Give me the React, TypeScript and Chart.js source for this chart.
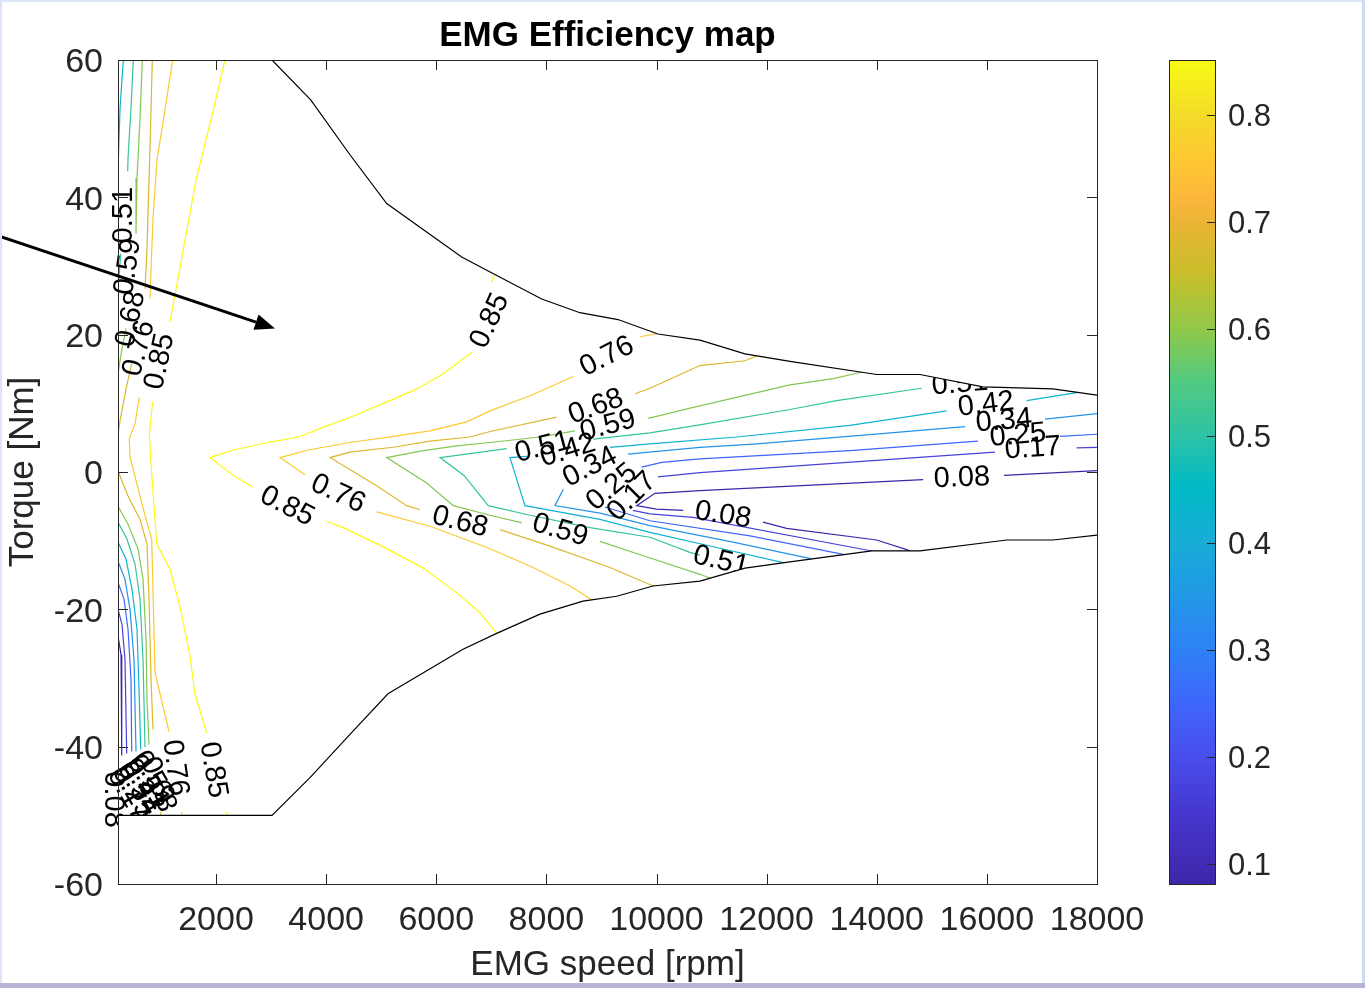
import React, { useEffect, useRef } from 'react';
import { Chart, registerables } from 'chart.js';
Chart.register(...registerables);

const FONT = '"Liberation Sans", Arial, Helvetica, sans-serif';
Chart.defaults.font.family = FONT;

// ---------- axes ----------
const xRange = [220, 18000];
const yRange = [-60, 60];
const xTicks = [2000, 4000, 6000, 8000, 10000, 12000, 14000, 16000, 18000];
const yTicks = [-60, -40, -20, 0, 20, 40, 60];
const cRange = [0.081, 0.851];
const cbTicks = [0.1, 0.2, 0.3, 0.4, 0.5, 0.6, 0.7, 0.8];
const levels = [0.08, 0.17, 0.25, 0.34, 0.42, 0.51, 0.59, 0.68, 0.76, 0.85];

// ---------- operating envelope (speed rpm, torque Nm) ----------
const topEnvelope = [[220, 60], [3017, 60], [3720, 54.2], [4433, 46.2], [5100, 39.1], [6462, 31.3], [7030, 28.9], [7915, 25.2], [8610, 23.2], [9300, 22.2], [10027, 20.1], [10789, 19.2], [11607, 17.2], [12424, 16.1], [13998, 14.2], [14785, 14.2], [15929, 12.4], [17200, 12.1], [18000, 11.2]];
const bottomEnvelope = [[220, -50], [3017, -50], [3707, -44.5], [4433, -38.2], [5123, -32.3], [5796, -29.1], [6486, -25.8], [7097, -23.5], [7884, -20.7], [8665, -18.8], [9277, -18.1], [9936, -16.6], [10789, -15.9], [11607, -14.0], [12424, -13.1], [13908, -11.5], [14785, -11.5], [16359, -9.9], [17200, -9.9], [18000, -9.2]];

// ---------- contour segments per level ----------
const c08 = [
  [[220, -23.9], [275, -26.6], [288, -33.1], [288, -41.3]],
  [[14844, -1.1], [10789, -2.7], [9972, -3.1], [9640, -4.9], [10003, -5.4], [10486, -5.6]],
  [[16310, -0.5], [18000, 0.2]],
  [[11934, -7.3], [12364, -8.2], [13998, -9.9], [14543, -11.3], [14700, -11.8]],
];
const c17 = [
  [[220, -20.0], [293, -22.2], [347, -27.3], [378, -41.0]],
  [[10027, -0.7], [10789, -0.1], [16147, 2.9]],
  [[17630, 3.5], [18000, 3.6]],
  [[9570, -5.6], [9881, -6.1], [10662, -6.6], [13913, -11.5], [14100, -11.9]],
];
const c25 = [
  [[220, -16.1], [329, -18.5], [402, -22.9], [456, -30.2], [469, -40.7]],
  [[9731, 0.7], [10094, 1.4], [10789, 1.9], [13513, 3.1], [15838, 4.5]],
  [[17327, 5.2], [18000, 5.5]],
  [[9064, -5.1], [9881, -7.1], [11697, -9.3], [13392, -12.0], [13650, -12.4]],
];
const c34 = [
  [[220, -13.0], [347, -15.6], [438, -20.0], [511, -27.3], [547, -40.7]],
  [[9482, 2.6], [10789, 3.6], [11819, 4.1], [13817, 5.4], [15602, 6.6]],
  [[17055, 7.7], [18000, 8.5]],
  [[8307, -2.5], [8156, -4.9], [8973, -6.0], [9881, -7.8], [11389, -10.2], [12842, -12.7], [13100, -13.2]],
];
const c42 = [
  [[317, 60], [257, 53.0], [226, 45.4], [220, 44.0]],
  [[220, -10.2], [366, -12.7], [475, -17.1], [565, -22.9], [602, -31.7], [633, -40.4]],
  [[7702, 2.3], [7339, 2.1], [7611, -4.9], [8973, -6.9], [9881, -8.8], [11093, -11.0], [12302, -13.2], [12550, -13.7]],
  [[9155, 3.6], [9881, 4.1], [11456, 5.1], [13513, 6.8], [15269, 8.9]],
  [[16722, 10.4], [17660, 11.6], [17800, 11.8]],
];
const c51 = [
  [[498, 60], [456, 53.0], [402, 45.7], [396, 43.8]],
  [[270, 31.8], [220, 26.7]],
  [[220, -7.3], [384, -9.8], [529, -13.4], [620, -18.5], [674, -27.3], [711, -40.1]],
  [[7279, 3.4], [6068, 2.1], [6504, -0.5], [6945, -4.9], [7702, -6.3], [8792, -8.1], [9881, -9.5], [10608, -11.7], [10789, -12.1]],
  [[8851, 4.8], [9881, 5.7], [10729, 6.8], [12424, 9.1], [13272, 10.4], [14816, 12.2]],
];
const c59 = [
  [[662, 60], [620, 51.5], [565, 42.8], [547, 34.7]],
  [[366, 20.9], [293, 18.0], [239, 15.3], [220, 14.2]],
  [[220, -5.0], [402, -7.6], [584, -11.2], [674, -15.6], [729, -24.4], [747, -33.1], [783, -39.7]],
  [[8520, 6.0], [7884, 5.1], [6976, 4.3], [6371, 3.8], [5765, 3.1], [5100, 2.1], [5826, -1.6], [6310, -4.9], [6976, -6.3], [7557, -7.4]],
  [[9850, 7.8], [10668, 9.4], [12424, 12.7], [13211, 13.6], [13750, 14.6]],
  [[8973, -10.1], [9760, -12.2], [10789, -14.9], [11050, -15.7]],
];
const c68 = [
  [[843, 60], [801, 47.2], [747, 32.6], [711, 26.7]],
  [[469, 15.8], [366, 12.1], [257, 7.5], [220, 5.4]],
  [[226, 0], [402, -3.5], [620, -6.9], [747, -10.5], [783, -18.5], [820, -30.2], [856, -37.5]],
  [[995, -49.5], [1005, -51]],
  [[8187, 8.0], [6976, 5.9], [6613, 5.1], [5886, 4.5], [5220, 3.6], [4433, 2.9], [4070, 2.1], [4918, -2.0], [5463, -4.9], [5705, -5.5]],
  [[9609, 11.4], [9881, 12.2], [10789, 15.5], [11607, 16.2], [11879, 17.1], [12000, 17.3]],
  [[7157, -8.4], [8065, -10.8], [9155, -13.9], [9941, -16.6], [10100, -17.3]],
];
const c76 = [
  [[1214, 60], [1072, 52.7], [928, 45.4], [856, 36.9], [820, 29.5], [801, 25.3]],
  [[607, 10.9], [529, 7.0], [456, 5.5], [425, 4.8], [438, 2.2], [680, -5.4], [832, -9.8], [892, -29.2], [1146, -37.8]],
  [[1377, -49.5], [1390, -51]],
  [[8489, 13.9], [7702, 11.1], [6976, 8.9], [6553, 7.3], [5886, 6.0], [5220, 5.2], [4433, 4.3], [3676, 3.2], [3162, 2.1], [3616, -0.4]],
  [[9700, 19.7], [10100, 20.3]],
  [[4918, -5.8], [5886, -7.9], [6921, -11.0], [7762, -13.9], [8429, -16.6], [8823, -18.6], [8950, -19.3]],
];
const c85 = [
  [[2163, 60], [1951, 52.7], [1637, 42.5], [1165, 21.9]],
  [[850, 10.2], [789, 5.5], [814, 1.9], [923, -10.5], [1165, -14.2], [1346, -19.6], [1528, -26.8], [1619, -32.4], [1831, -38.0]],
  [[2194, -49.5], [2210, -51]],
  [[6644, 17.4], [6128, 14.3], [5645, 12.1], [5160, 10.4], [4506, 8.2], [3949, 6.5], [3495, 5.1], [3012, 4.4], [2314, 3.2], [1891, 2.1], [2314, -0.5], [2666, -2.2]],
  [[7000, 27.6], [7100, 29.6]],
  [[4011, -7.2], [4312, -8.1], [5038, -10.9], [5765, -14.0], [6371, -17.6], [6794, -20.5], [7097, -23.5], [7250, -25.2]],
];
const contourSets = [c08, c17, c25, c34, c42, c51, c59, c68, c76, c85];

// label text, speed, torque, rotation (deg)
const contourLabels: [string, number, number, number][] = [
  ['0.08', 15547, -0.9, -2], ['0.08', 11207, -6.3, 9], ['0.08', 130, -47.7, 90],
  ['0.17', 16837, 3.4, -4], ['0.17', 9555, -3.6, -45], ['0.17', 402, -47.0, 60],
  ['0.25', 16564, 5.3, -5], ['0.25', 9191, -2.2, -40], ['0.25', 493, -46.6, 60],
  ['0.34', 16310, 7.4, -5], ['0.34', 8792, 0.7, -27], ['0.34', 584, -46.1, 60],
  ['0.42', 15983, 9.8, -7], ['0.42', 8392, 3.1, -17], ['0.42', 674, -45.7, 60],
  ['0.51', 15511, 12.8, -5], ['0.51', 7938, 3.6, -15], ['0.51', 11171, -13.0, 13], ['0.51', 329, 37.4, -90], ['0.51', 765, -45.1, 60],
  ['0.59', 9119, 6.7, -15], ['0.59', 8247, -8.5, 16], ['0.59', 402, 29.9, -82], ['0.59', 856, -44.5, 60],
  ['0.68', 8901, 9.5, -20], ['0.68', 6431, -7.3, 14], ['0.68', 456, 22.3, -78], ['0.68', 947, -45.5, 70],
  ['0.76', 9101, 16.8, -27], ['0.76', 4216, -3.2, 25], ['0.76', 602, 18.0, -75], ['0.76', 1255, -43.1, 82],
  ['0.85', 6976, 22.0, -65], ['0.85', 3289, -5.0, 27], ['0.85', 981, 16.1, -78], ['0.85', 1946, -43.4, 80],
];

// annotation arrow (speed, torque)
const arrowTail = [-1923, 34.3];
const arrowHead = [3071, 20.9];

// parula-like colormap stops
const parulaStops: [number, number, number, number][] = [
  [0.0, 62, 38, 168], [0.09, 70, 56, 208], [0.155, 72, 78, 236], [0.22, 62, 102, 250],
  [0.284, 46, 130, 245], [0.35, 33, 152, 230], [0.414, 25, 172, 214], [0.48, 0, 186, 198],
  [0.544, 45, 194, 166], [0.61, 82, 202, 128], [0.674, 145, 200, 72], [0.74, 200, 190, 42],
  [0.8, 232, 180, 52], [0.83, 252, 182, 60], [0.88, 253, 200, 50], [0.935, 242, 220, 40], [1.0, 249, 251, 20],
];

function colorAt(t: number) {
  t = Math.max(0, Math.min(1, t));
  for (let i = 1; i < parulaStops.length; i++) {
    const a = parulaStops[i - 1], b = parulaStops[i];
    if (t <= b[0]) {
      const f = (t - a[0]) / (b[0] - a[0]);
      const c = [1, 2, 3].map(k => Math.round(a[k] + (b[k] - a[k]) * f));
      return `rgb(${c[0]},${c[1]},${c[2]})`;
    }
  }
  const l = parulaStops[parulaStops.length - 1];
  return `rgb(${l[1]},${l[2]},${l[3]})`;
}
const levelColor = (v: number) => colorAt((v - cRange[0]) / (cRange[1] - cRange[0]));

const AX = '#262626';
const toXY = (pts: number[][]) => pts.map(([x, y]) => ({ x, y }));

function buildMainConfig(): any {
  const datasets: any[] = [
    { data: toXY(topEnvelope), borderColor: '#000', borderWidth: 1.2, backgroundColor: '#ffffff', fill: 'end', pointRadius: 0, tension: 0, order: 0 },
    { data: toXY(bottomEnvelope), borderColor: '#000', borderWidth: 1.2, backgroundColor: '#ffffff', fill: 'start', pointRadius: 0, tension: 0, order: 0 },
  ];
  const firstContour = datasets.length;
  contourSets.forEach((segs, i) => {
    segs.forEach(seg => {
      datasets.push({ data: toXY(seg), borderColor: levelColor(levels[i]), borderWidth: 1.2, fill: false, pointRadius: 0, tension: 0, order: 1 });
    });
  });

  const labelPlugin = {
    id: 'contourLabels',
    afterDatasetDraw(chart: any, args: any) {
      if (args.index !== firstContour) return;
      const { ctx, scales: { x, y } } = chart;
      ctx.save();
      ctx.fillStyle = '#000';
      ctx.font = `29px ${FONT}`;
      ctx.textAlign = 'center';
      ctx.textBaseline = 'middle';
      contourLabels.forEach(([t, sx, ty, rot]) => {
        ctx.save();
        ctx.translate(x.getPixelForValue(sx), y.getPixelForValue(ty));
        ctx.rotate((rot * Math.PI) / 180);
        ctx.fillText(t, 0, 0);
        ctx.restore();
      });
      ctx.restore();
    },
  };

  const framePlugin = {
    id: 'frame',
    afterDraw(chart: any) {
      const { ctx, chartArea: a, scales: { x, y } } = chart;
      ctx.save();
      ctx.strokeStyle = AX;
      ctx.lineWidth = 1;
      ctx.strokeRect(a.left + 0.5, a.top + 0.5, a.right - a.left, a.bottom - a.top);
      ctx.beginPath();
      xTicks.forEach(v => {
        const p = Math.round(x.getPixelForValue(v)) + 0.5;
        ctx.moveTo(p, a.bottom); ctx.lineTo(p, a.bottom - 10);
        ctx.moveTo(p, a.top); ctx.lineTo(p, a.top + 10);
      });
      yTicks.forEach(v => {
        const p = Math.round(y.getPixelForValue(v)) + 0.5;
        ctx.moveTo(a.left, p); ctx.lineTo(a.left + 10, p);
        ctx.moveTo(a.right, p); ctx.lineTo(a.right - 10, p);
      });
      ctx.stroke();
      // arrow annotation
      const x0 = x.getPixelForValue(arrowTail[0]), y0 = y.getPixelForValue(arrowTail[1]);
      const x1 = x.getPixelForValue(arrowHead[0]), y1 = y.getPixelForValue(arrowHead[1]);
      const ang = Math.atan2(y1 - y0, x1 - x0);
      const hl = 20, hw = 8;
      const bx = x1 - hl * Math.cos(ang), by = y1 - hl * Math.sin(ang);
      ctx.strokeStyle = '#000';
      ctx.fillStyle = '#000';
      ctx.lineWidth = 3;
      ctx.beginPath();
      ctx.moveTo(x0, y0); ctx.lineTo(bx, by);
      ctx.stroke();
      ctx.beginPath();
      ctx.moveTo(x1, y1);
      ctx.lineTo(bx + hw * Math.sin(ang), by - hw * Math.cos(ang));
      ctx.lineTo(bx - hw * Math.sin(ang), by + hw * Math.cos(ang));
      ctx.closePath();
      ctx.fill();
      ctx.restore();
    },
  };

  return {
    type: 'line',
    data: { datasets },
    options: {
      animation: false,
      responsive: false,
      devicePixelRatio: 1,
      events: [],
      layout: { padding: { left: 0, top: 0, right: 268, bottom: 0 } },
      plugins: {
        legend: { display: false },
        tooltip: { enabled: false },
        title: {
          display: true, text: 'EMG Efficiency map', color: '#000', fullSize: false,
          font: { family: FONT, size: 35, weight: 'bold' }, padding: { top: 15, bottom: 3 },
        },
      },
      scales: {
        x: {
          type: 'linear', min: xRange[0], max: xRange[1],
          afterBuildTicks: (s: any) => { s.ticks = xTicks.map(v => ({ value: v })); },
          afterFit: (s: any) => { s.height = 104; },
          ticks: { callback: (v: any) => String(v), font: { family: FONT, size: 34 }, color: AX, padding: 16, maxRotation: 0, autoSkip: false },
          grid: { display: false, drawTicks: false },
          border: { display: false },
          title: { display: true, text: 'EMG speed [rpm]', color: AX, font: { family: FONT, size: 35 }, padding: { top: 0, bottom: 2 } },
        },
        y: {
          type: 'linear', min: yRange[0], max: yRange[1],
          afterBuildTicks: (s: any) => { s.ticks = yTicks.map(v => ({ value: v })); },
          afterFit: (s: any) => { s.width = 118; },
          ticks: { callback: (v: any) => String(v), font: { family: FONT, size: 34 }, color: AX, padding: 15, autoSkip: false, labelOffset: 3 },
          grid: { display: false, drawTicks: false },
          border: { display: false },
          title: { display: true, text: 'Torque [Nm]', color: AX, font: { family: FONT, size: 35 }, padding: { top: 2, bottom: 0 } },
        },
      },
    },
    plugins: [labelPlugin, framePlugin],
  };
}

function buildColorbarConfig(): any {
  const cbFrame = {
    id: 'cbFrame',
    afterDraw(chart: any) {
      const { ctx, chartArea: a, scales: { y } } = chart;
      ctx.save();
      ctx.strokeStyle = AX;
      ctx.lineWidth = 1;
      ctx.strokeRect(a.left + 0.5, a.top + 0.5, a.right - a.left - 1, a.bottom - a.top);
      ctx.beginPath();
      cbTicks.forEach(v => {
        const p = Math.round(y.getPixelForValue(v)) + 0.5;
        ctx.moveTo(a.right, p); ctx.lineTo(a.right - 9, p);
      });
      ctx.stroke();
      ctx.restore();
    },
  };
  return {
    type: 'bar',
    data: {
      labels: ['cb'],
      datasets: [{
        data: [[cRange[0], cRange[1]]],
        barPercentage: 1, categoryPercentage: 1, borderWidth: 0, borderSkipped: false,
        backgroundColor: (c: any) => {
          const chart = c.chart; const a = chart.chartArea;
          if (!a) return '#888';
          const g = chart.ctx.createLinearGradient(0, a.bottom, 0, a.top);
          parulaStops.forEach(([t, r, gg, b]) => g.addColorStop(t, `rgb(${r},${gg},${b})`));
          return g;
        },
      }],
    },
    options: {
      animation: false,
      responsive: false,
      devicePixelRatio: 1,
      events: [],
      layout: { padding: { left: 29, top: 60, right: 0, bottom: 104 } },
      plugins: { legend: { display: false }, tooltip: { enabled: false }, title: { display: false } },
      scales: {
        x: { display: false },
        y: {
          position: 'right', min: cRange[0], max: cRange[1],
          afterBuildTicks: (s: any) => { s.ticks = cbTicks.map(v => ({ value: v })); },
          afterFit: (s: any) => { s.width = 149; },
          ticks: { callback: (v: any) => Number(v).toFixed(1), font: { family: FONT, size: 31 }, color: AX, padding: 12, autoSkip: false, labelOffset: 3 },
          grid: { display: false, drawTicks: false },
          border: { display: false },
        },
      },
    },
    plugins: [cbFrame],
  };
}

export default function App() {
  const mainRef = useRef<HTMLCanvasElement>(null);
  const cbRef = useRef<HTMLCanvasElement>(null);
  useEffect(() => {
    const main = new Chart(mainRef.current as HTMLCanvasElement, buildMainConfig());
    const cb = new Chart(cbRef.current as HTMLCanvasElement, buildColorbarConfig());
    return () => { main.destroy(); cb.destroy(); };
  }, []);
  return (
    <div style={{ position: 'absolute', left: 0, top: 0, width: 1365, height: 988, background: '#fff', overflow: 'hidden' }}>
      <canvas ref={mainRef} width={1365} height={988} style={{ position: 'absolute', left: 0, top: 0 }} />
      <canvas ref={cbRef} width={225} height={988} style={{ position: 'absolute', left: 1140, top: 0 }} />
      <div style={{ position: 'absolute', left: 0, top: 0, width: 1365, height: 2, background: '#dbe5f5' }} />
      <div style={{ position: 'absolute', left: 0, top: 0, width: 2, height: 988, background: '#dbe5f5' }} />
      <div style={{ position: 'absolute', left: 1362, top: 0, width: 3, height: 988, background: '#cfdaf3' }} />
      <div style={{ position: 'absolute', left: 0, top: 983, width: 1365, height: 5, background: '#b9b3d9' }} />
    </div>
  );
}
